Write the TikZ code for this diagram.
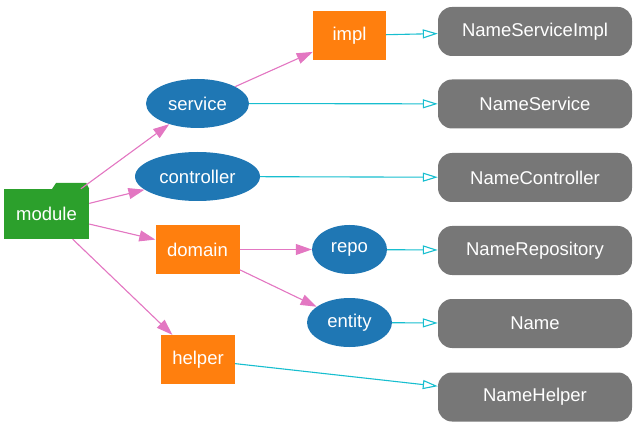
\documentclass[tikz,border=0pt]{standalone}
\usepackage{fontspec}
\setmainfont{Liberation Sans}
\usepackage{tikz}
\usetikzlibrary{positioning,shapes.geometric,arrows.meta}
\definecolor{pkgblue}{HTML}{1F77B4}
\definecolor{pkgorange}{HTML}{FF7F0E}
\definecolor{pkggreen}{HTML}{2CA02C}
\definecolor{clsgray}{HTML}{777777}
\definecolor{edgepink}{HTML}{E377C2}
\definecolor{edgecyan}{HTML}{17BECF}

\begin{document}
\begin{tikzpicture}[x=1pt,y=-1pt,
every node/.style={font=\fontsize{18.5}{22}\selectfont,text=white,inner sep=0pt},
pkg/.style={
ellipse,
fill=pkgblue,
minimum height=49pt
},
sub/.style={
rectangle,
fill=pkgorange,
minimum height=49pt
},
cls/.style={
rectangle,
rounded corners=14pt,
fill=clsgray,
minimum width=194pt,
minimum height=49pt
},
has/.style={-{Triangle[length=16pt,width=11pt]},draw=edgepink,fill=edgepink,line width=1.1pt},
def/.style={-{Triangle[open,length=15pt,width=9pt]},draw=edgecyan,line width=1.1pt},
]
\useasboundingbox (0,0) rectangle (636,427);
\node (module) [rectangle,fill=pkggreen,minimum width=85pt,minimum height=50pt] at (46.5,214) {module};
\fill[pkggreen] ([xshift=-37pt]module.north east) -- ([xshift=-33pt,yshift=6pt]module.north east)
  -- ([xshift=-3pt,yshift=6pt]module.north east) -- (module.north east) -- cycle;
\node (service) [pkg,minimum width=103pt] at (197.5,103.5) {service};
\node (controller) [pkg,minimum width=125pt] at (197.5,176.5) {controller};
\node (domain) [sub,minimum width=84pt] at (197.5,249.5) {domain};
\node (helper) [sub,minimum width=74pt] at (198,359.5) {helper};
\node (impl) [sub,minimum width=73pt] at (349.5,35.5) {impl};
\node (repo) [pkg,minimum width=75pt] at (349.5,249.5) {repo};
\node (entity) [pkg,minimum width=85pt] at (349.5,322.5) {entity};
\node (implcls) [cls] at (535,31.5) {NameServiceImpl};
\node (servicecls) [cls] at (535,104) {NameService};
\node (controllercls) [cls] at (535,177.5) {NameController};
\node (repocls) [cls] at (535,250.5) {NameRepository};
\node (entitycls) [cls] at (535,323.5) {Name};
\node (helpercls) [cls] at (535,397) {NameHelper};
\draw[has] (module) -- (service);
\draw[has] (module) -- (controller);
\draw[has] (module) -- (domain);
\draw[has] (module) -- (helper);
\draw[has] (service) -- (impl);
\draw[has] (domain) -- (repo);
\draw[has] (domain) -- (entity);
\draw[def] (impl) -- (implcls);
\draw[def] (service) -- (servicecls);
\draw[def] (controller) -- (controllercls);
\draw[def] (repo) -- (repocls);
\draw[def] (entity) -- (entitycls);
\draw[def] (helper) -- (helpercls);
\end{tikzpicture}
\end{document}
